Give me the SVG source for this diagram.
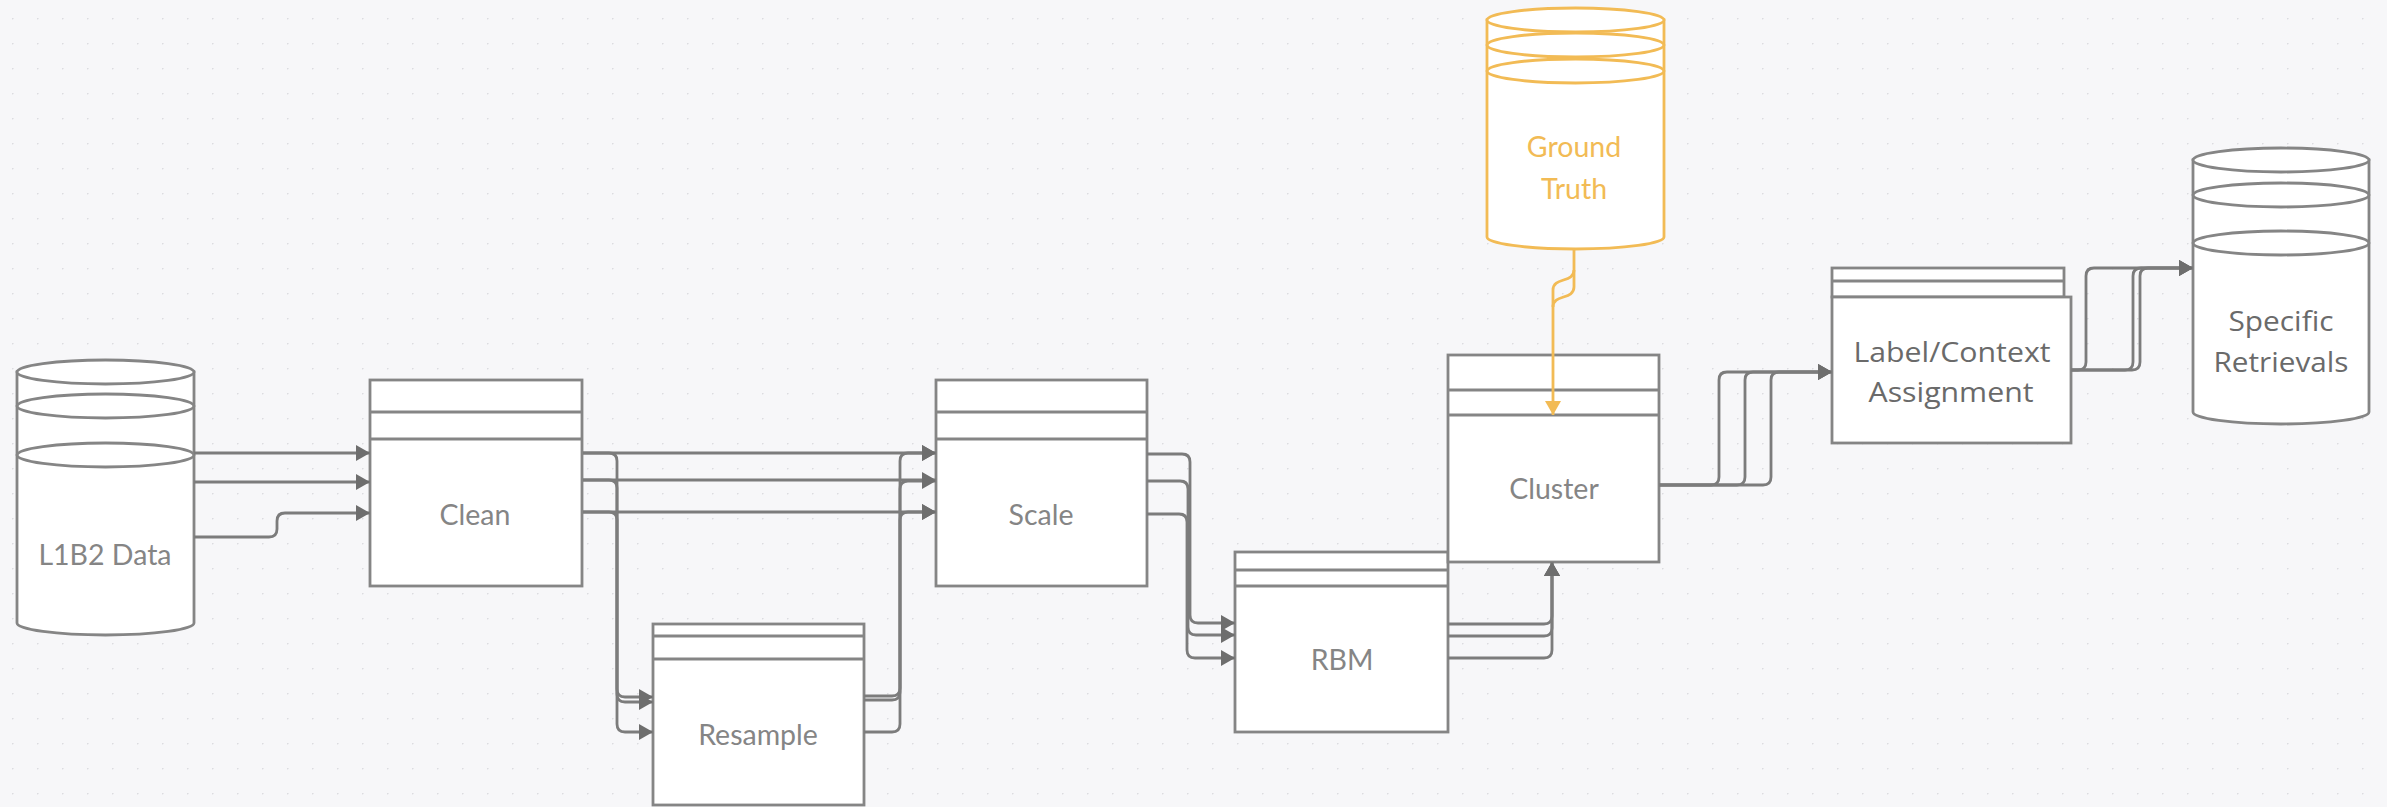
<svg xmlns="http://www.w3.org/2000/svg" width="2387" height="807" viewBox="0 0 2387 807">
<style>
.box{fill:#ffffff;stroke:#858585;stroke-width:2.8}
.ln{fill:none;stroke:#858585;stroke-width:2.8}
.gbox{fill:#ffffff;stroke:#f2bb55;stroke-width:2.8}
.gln{fill:none;stroke:#f2bb55;stroke-width:2.8}
.lbl{font-family:Lato,"Liberation Sans",sans-serif;font-size:28.5px;fill:#858585;text-anchor:middle}
.glbl{font-family:Lato,"Liberation Sans",sans-serif;font-size:28.5px;fill:#f2bb55;text-anchor:middle}
.olbl{font-family:"Open Sans","Noto Sans",sans-serif;font-size:26.5px;fill:#6a6a6a;text-anchor:middle}
.con{fill:none;stroke:#7c7c7c;stroke-width:2.8;marker-end:url(#arr)}
.gcon{fill:none;stroke:#f2bb55;stroke-width:2.8}
</style>
<defs>
<pattern id="dots" x="12" y="18" width="25" height="25" patternUnits="userSpaceOnUse">
<circle cx="0.5" cy="0.5" r="1.1" fill="#dcdce0"/>
</pattern>
<marker id="arr" markerUnits="userSpaceOnUse" markerWidth="15" markerHeight="16" refX="14" refY="8" orient="auto">
<path d="M0,0 L14,8 L0,16 z" fill="#6e6e6e"/>
</marker>
<marker id="garr" markerUnits="userSpaceOnUse" markerWidth="15" markerHeight="16" refX="14" refY="8" orient="auto">
<path d="M0,0 L14,8 L0,16 z" fill="#f2bb55"/>
</marker>
</defs>
<rect x="0" y="0" width="2387" height="807" fill="#f7f7f9"/>
<rect x="0" y="0" width="2387" height="807" fill="url(#dots)"/>

<g id="node-l1b2">
<path class="box" d="M17,372 V623 A88.5,12 0 0 0 194,623 V372 Z"/>
<ellipse class="box" cx="105.5" cy="372" rx="88.5" ry="12"/>
<ellipse class="ln" cx="105.5" cy="406" rx="88.5" ry="12"/>
<ellipse class="ln" cx="105.5" cy="455" rx="88.5" ry="12"/>
<text class="lbl" x="105" y="565">L1B2 Data</text>
</g>

<g id="node-clean">
<rect class="box" x="370" y="380" width="212" height="206"/>
<line class="ln" x1="370" y1="412" x2="582" y2="412"/>
<line class="ln" x1="370" y1="439" x2="582" y2="439"/>
<text class="lbl" x="475" y="525">Clean</text>
</g>

<g id="node-resample">
<rect class="box" x="653" y="624" width="211" height="181"/>
<line class="ln" x1="653" y1="636" x2="864" y2="636"/>
<line class="ln" x1="653" y1="659" x2="864" y2="659"/>
<text class="lbl" x="758" y="745">Resample</text>
</g>

<g id="node-scale">
<rect class="box" x="936" y="380" width="211" height="206"/>
<line class="ln" x1="936" y1="412" x2="1147" y2="412"/>
<line class="ln" x1="936" y1="439" x2="1147" y2="439"/>
<text class="lbl" x="1041" y="525">Scale</text>
</g>

<g id="node-rbm">
<rect class="box" x="1235" y="552" width="213" height="180"/>
<line class="ln" x1="1235" y1="570" x2="1448" y2="570"/>
<line class="ln" x1="1235" y1="586" x2="1448" y2="586"/>
<text class="lbl" x="1342" y="670">RBM</text>
</g>

<g id="node-cluster">
<rect class="box" x="1448" y="355" width="211" height="207"/>
<line class="ln" x1="1448" y1="390" x2="1659" y2="390"/>
<line class="ln" x1="1448" y1="415" x2="1659" y2="415"/>
<text class="lbl" x="1554" y="499">Cluster</text>
</g>

<g id="node-groundtruth">
<path class="gbox" d="M1487,20 V237 A88.5,12 0 0 0 1664,237 V20 Z"/>
<ellipse class="gbox" cx="1575.5" cy="20" rx="88.5" ry="12"/>
<ellipse class="gln" cx="1575.5" cy="45" rx="88.5" ry="12"/>
<ellipse class="gln" cx="1575.5" cy="71" rx="88.5" ry="12"/>
<text class="glbl" x="1574" y="157">Ground</text>
<text class="glbl" x="1574" y="199">Truth</text>
</g>

<g id="node-label">
<rect class="box" x="1832" y="268" width="232" height="29"/>
<line class="ln" x1="1832" y1="281" x2="2064" y2="281"/>
<rect class="box" x="1832" y="297" width="239" height="146"/>
<text class="olbl" x="1952" y="362" textLength="197" lengthAdjust="spacingAndGlyphs">Label/Context</text>
<text class="olbl" x="1951" y="402" textLength="165" lengthAdjust="spacingAndGlyphs">Assignment</text>
</g>

<g id="node-specific">
<path class="box" d="M2193,160 V412 A88,12 0 0 0 2369,412 V160 Z"/>
<ellipse class="box" cx="2281" cy="160" rx="88" ry="12"/>
<ellipse class="ln" cx="2281" cy="195" rx="88" ry="12"/>
<ellipse class="ln" cx="2281" cy="243" rx="88" ry="12"/>
<text class="olbl" x="2281" y="331" textLength="105" lengthAdjust="spacingAndGlyphs">Specific</text>
<text class="olbl" x="2281" y="372" textLength="135" lengthAdjust="spacingAndGlyphs">Retrievals</text>
</g>

<g id="connectors">
<path class="con" d="M194,453 H370"/>
<path class="con" d="M194,482 H370"/>
<path class="con" d="M194,537 H269 Q277,537 277,529 V521 Q277,513 285,513 H370"/>

<path class="con" d="M583,453 H936"/>
<path class="con" d="M583,480 H936"/>
<path class="con" d="M583,512 H936"/>

<path class="con" d="M583,453 H609 Q617,453 617,461 V689 Q617,697 625,697 H653"/>
<path class="con" d="M583,480 H609 Q617,480 617,488 V694 Q617,702 625,702 H653"/>
<path class="con" d="M583,512 H609 Q617,512 617,520 V724 Q617,732 625,732 H653"/>

<path class="con" d="M864,696 H892 Q900,696 900,688 V461 Q900,453 908,453 H936"/>
<path class="con" d="M864,700 H892 Q900,700 900,692 V489 Q900,481 908,481 H936"/>
<path class="con" d="M864,732 H892 Q900,732 900,724 V520 Q900,512 908,512 H936"/>

<path class="con" d="M1147,454 H1182 Q1190,454 1190,462 V615 Q1190,623 1198,623 H1235"/>
<path class="con" d="M1147,481 H1180 Q1188,481 1188,489 V627 Q1188,635 1196,635 H1235"/>
<path class="con" d="M1147,514 H1179 Q1187,514 1187,522 V650 Q1187,658 1195,658 H1235"/>

<path class="con" d="M1448,624 H1544 Q1552,624 1552,616 V562"/>
<path class="con" d="M1448,636 H1544 Q1552,636 1552,628 V562"/>
<path class="con" d="M1448,658 H1544 Q1552,658 1552,650 V562"/>

<path class="gcon" d="M1574,249 V270 C1574,283 1553,277 1553,290 V415" marker-end="url(#garr)"/>
<path class="gcon" d="M1574,270 V287 C1574,300 1553,294 1553,307"/>

<path class="con" d="M1659,485 H1711 Q1719,485 1719,477 V380 Q1719,372 1727,372 H1832"/>
<path class="con" d="M1659,485 H1737 Q1745,485 1745,477 V380 Q1745,372 1753,372 H1832"/>
<path class="con" d="M1659,485 H1763 Q1771,485 1771,477 V380 Q1771,372 1779,372 H1832"/>

<path class="con" d="M2071,370 H2078 Q2086,370 2086,362 V276 Q2086,268 2094,268 H2193"/>
<path class="con" d="M2071,370 H2125 Q2133,370 2133,362 V276 Q2133,268 2141,268 H2193"/>
<path class="con" d="M2071,370 H2132 Q2140,370 2140,362 V276 Q2140,268 2148,268 H2193"/>
</g>
</svg>
